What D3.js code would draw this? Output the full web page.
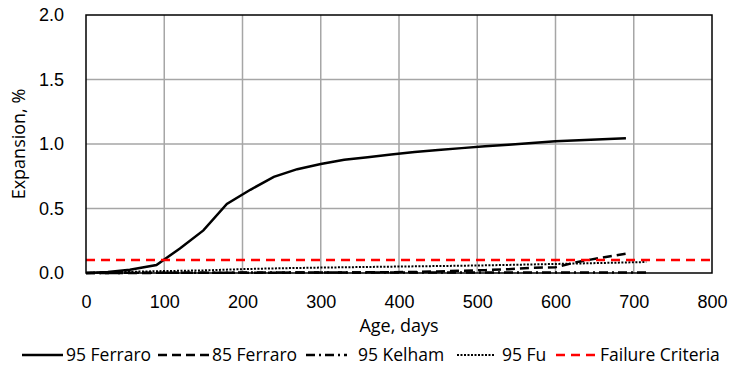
<!DOCTYPE html>
<html>
<head>
<meta charset="utf-8">
<script src="https://cdn.jsdelivr.net/npm/d3@7"></script>
<style>
  body { margin: 0; background: #fff; }
  svg { font-family: "Open Sans", "Liberation Sans", Arial, sans-serif; }
  .tick text { font-size: 18px; fill: #000; }
</style>
</head>
<body>
<svg id="chart" width="739" height="367"></svg>
<script>
// data (age in days, expansion in %)
var ferraro95 = [[0,0],[28,0.008],[56,0.025],[90,0.062],[120,0.19],[150,0.33],[180,0.535],[210,0.645],[240,0.745],[270,0.805],[300,0.845],[330,0.878],[360,0.898],[390,0.918],[420,0.938],[450,0.953],[480,0.968],[510,0.983],[540,0.995],[570,1.008],[600,1.022],[630,1.03],[660,1.037],[690,1.045]];
var ferraro85 = [[0,0],[90,0.001],[180,0.002],[270,0.003],[360,0.005],[420,0.008],[450,0.012],[480,0.018],[510,0.022],[540,0.03],[570,0.04],[600,0.045],[630,0.088],[660,0.12],[690,0.15]];
var kelham95 = [[0,0],[100,0.002],[200,0.003],[300,0.003],[400,0.003],[500,0.003],[600,0.003],[718,0.003]];
var fu95 = [[0,0],[30,0.005],[60,0.01],[100,0.015],[150,0.02],[200,0.03],[250,0.037],[300,0.042],[400,0.05],[500,0.058],[600,0.07],[716,0.085]];
var failure = [[0,0.1],[800,0.1]];

var xTicks = [0,100,200,300,400,500,600,700,800];
var yTicks = [0,0.5,1.0,1.5,2.0];

var series = [
  {name: "95 Ferraro", data: ferraro95, color: "#000", dash: null, w: 2.5},
  {name: "85 Ferraro", data: ferraro85, color: "#000", dash: "9,5", w: 2.5},
  {name: "95 Kelham", data: kelham95, color: "#000", dash: "9,4,2,4", w: 2.5},
  {name: "95 Fu", data: fu95, color: "#000", dash: "2,1.5", w: 2},
  {name: "Failure Criteria", data: failure, color: "#ff0000", dash: "9,6", w: 2.5}
];

var svg = d3.select("#chart"),
  margin = {top: 15, left: 86, right: 27, bottom: 94},
  width = +svg.attr("width") - margin.left - margin.right,
  height = +svg.attr("height") - margin.top - margin.bottom;

var x = d3.scaleLinear().domain([0,800]).range([0,width]),
  y = d3.scaleLinear().domain([0,2]).range([height,0]);

var g = svg.append("g")
  .attr("transform", "translate(" + margin.left + "," + margin.top + ")");

// gridlines
g.append("g").selectAll("line")
  .data(xTicks.slice(1,-1)).enter().append("line")
  .attr("x1", d => x(d)).attr("x2", d => x(d))
  .attr("y1", 0).attr("y2", height)
  .attr("stroke", "#a6a6a6").attr("stroke-width", 1.5);
g.append("g").selectAll("line")
  .data(yTicks.slice(1,-1)).enter().append("line")
  .attr("y1", d => y(d)).attr("y2", d => y(d))
  .attr("x1", 0).attr("x2", width)
  .attr("stroke", "#a6a6a6").attr("stroke-width", 1.5);

// axes (labels only, the frame is drawn below)
var xAxis = g.append("g")
  .attr("transform", "translate(0," + height + ")")
  .call(d3.axisBottom(x).tickValues(xTicks).tickSize(0).tickPadding(22));
xAxis.select(".domain").remove();

var yAxis = g.append("g")
  .call(d3.axisLeft(y).tickValues(yTicks).tickFormat(d3.format(".1f")).tickSize(0).tickPadding(22));
yAxis.select(".domain").remove();

// lines
var line = d3.line()
  .x(function(d) { return x(d[0]); })
  .y(function(d) { return y(d[1]); });

g.selectAll(".line")
  .data(series).enter().append("path")
  .attr("class", "line")
  .attr("fill", "none")
  .attr("d", d => line(d.data))
  .attr("stroke", d => d.color)
  .attr("stroke-width", d => d.w)
  .attr("stroke-dasharray", d => d.dash);

// plot frame
g.append("rect")
  .attr("width", width).attr("height", height)
  .attr("fill", "none").attr("stroke", "#000").attr("stroke-width", 1.5);

// axis titles
svg.append("text")
  .attr("x", margin.left + width/2).attr("y", 332)
  .attr("text-anchor", "middle").style("font-size", "18px")
  .text("Age, days");

svg.append("text")
  .attr("transform", "translate(25," + (margin.top + height/2) + ") rotate(-90)")
  .attr("text-anchor", "middle").style("font-size", "18px")
  .text("Expansion, %");

// legend
var legX = [22, 158, 306, 457, 556];
var legTextX = [66, 212, 358, 502, 600];
var legSample = [41, 52, 41, 38, 40];
var leg = svg.append("g");
series.forEach(function(s, i) {
  leg.append("line")
    .attr("x1", legX[i]).attr("x2", legX[i] + legSample[i])
    .attr("y1", 355).attr("y2", 355)
    .attr("stroke", s.color).attr("stroke-width", s.w)
    .attr("stroke-dasharray", s.dash);
  leg.append("text")
    .attr("x", legTextX[i]).attr("y", 361)
    .style("font-size", "17.5px")
    .text(s.name);
});
</script>
</body>
</html>
